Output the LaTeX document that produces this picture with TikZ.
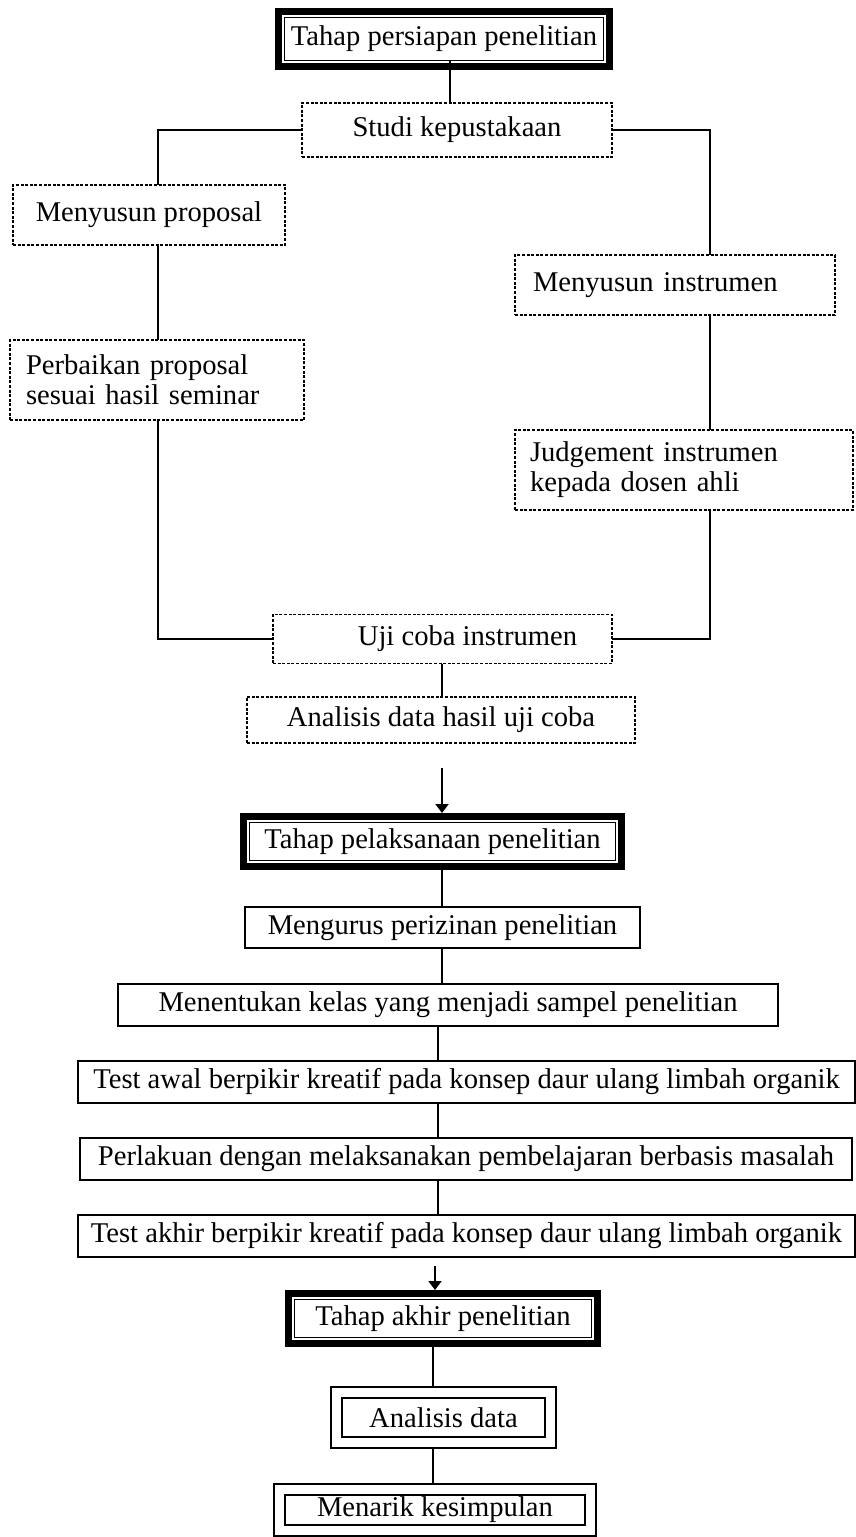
\documentclass[tikz,border=0pt]{standalone}
\usepackage{fontspec}
\setmainfont{Liberation Serif}
\usetikzlibrary{arrows.meta,calc}
\newcommand\stageframe[1]{\draw[line width=7pt] ([shift={(-6pt,6pt)}]#1.north west) rectangle ([shift={(6pt,-6pt)}]#1.south east);}
\newcommand\dblframe[1]{\draw[line width=1.6pt] ([shift={(-11pt,11pt)}]#1.north west) rectangle ([shift={(11pt,-11pt)}]#1.south east);}
\begin{document}
\begin{tikzpicture}[x=1pt,y=-1pt,
  every node/.style={font=\fontsize{28.6}{30}\selectfont, inner sep=0pt, outer sep=0pt},
  sbox/.style={draw, line width=1.5pt},
  dbox/.style={draw, line width=1.9pt, dash pattern=on 3pt off 1.6pt},
  sgl/.style={draw, line width=2pt},
  dbl/.style={draw, line width=1.6pt},
  conn/.style={line width=2pt},
  arr/.style={line width=2pt, -{Triangle[length=9pt,width=13pt]}}]
\useasboundingbox (0,0) rectangle (856,1537);
\coordinate (cl) at (158,0);
\coordinate (cr) at (710,0);
\coordinate (ct) at (450,0);
\coordinate (cm) at (442,0);
\coordinate (cb) at (438,0);
\coordinate (cz) at (433,0);

% preparation stage
\node[sbox, minimum width=319pt, minimum height=43pt] (s1) at (444,39) {Tahap persiapan penelitian};
\stageframe{s1}
\node[dbox, minimum width=310pt, minimum height=54pt] (studi) at (457,130) {Studi kepustakaan};
\node[dbox, minimum width=272pt, minimum height=60pt] (mprop) at (149,215) {Menyusun proposal};
\node[dbox, minimum height=80pt, text width=262pt, inner xsep=16pt, align=left, anchor=west] (perb) at (10,380) {Perbaikan proposal\\sesuai hasil seminar};
\node[dbox, minimum height=60pt, text width=284pt, inner xsep=18pt, align=left, anchor=west] (minst) at (515,285) {Menyusun instrumen};
\node[dbox, minimum height=80pt, text width=308pt, inner xsep=15pt, align=left, anchor=west] (judg) at (515,470) {Judgement instrumen\\kepada dosen ahli};
\node[dbox, minimum width=339pt, minimum height=49pt] (uji) at (442.5,639) {\hspace*{50pt}Uji coba instrumen};
\node[dbox, minimum width=388pt, minimum height=46pt] (anal) at (441,720) {Analisis data hasil uji coba};

\draw[conn] (s1.south -| ct) -- (studi.north -| ct);
\draw[conn] (studi.west) -| (cl |- mprop.north);
\draw[conn] (studi.east) -| (cr |- minst.north);
\draw[conn] (mprop.south -| cl) -- (perb.north -| cl);
\draw[conn] (minst.south -| cr) -- (judg.north -| cr);
\draw[conn] (perb.south -| cl) |- (uji.west);
\draw[conn] (judg.south -| cr) |- (uji.east);
\draw[conn] (uji.south -| cm) -- (anal.north -| cm);

% implementation stage
\node[sbox, minimum width=366pt, minimum height=38pt] (s2) at (432.5,841.5) {Tahap pelaksanaan penelitian};
\stageframe{s2}
\coordinate (a1) at (442,768);
\draw[arr] (a1) -- ($(s2.north -| cm)+(0,-9.5)$);

\node[sgl, minimum width=395pt, minimum height=41pt] (m1) at (442.5,927.5) {Mengurus perizinan penelitian};
\node[sgl, minimum width=660pt, minimum height=42pt] (m2) at (448,1005) {Menentukan kelas yang menjadi sampel penelitian};
\node[sgl, minimum width=777pt, minimum height=42pt] (m3) at (466.5,1082) {Test awal berpikir kreatif pada konsep daur ulang limbah organik};
\node[sgl, minimum width=772pt, minimum height=42pt] (m4) at (466,1159) {Perlakuan dengan melaksanakan pembelajaran berbasis masalah};
\node[sgl, minimum width=777pt, minimum height=42pt] (m5) at (466.5,1236) {Test akhir berpikir kreatif pada konsep daur ulang limbah organik};

\draw[conn] ($(s2.south -| cm)+(0,9.5)$) -- (m1.north -| cm);
\draw[conn] (m1.south -| cm) -- (m2.north -| cm);
\draw[conn] (m2.south -| cb) -- (m3.north -| cb);
\draw[conn] (m3.south -| cb) -- (m4.north -| cb);
\draw[conn] (m4.south -| cb) -- (m5.north -| cb);

% final stage
\node[sbox, minimum width=297pt, minimum height=38pt] (s3) at (443,1318.5) {Tahap akhir penelitian};
\stageframe{s3}
\coordinate (a2) at (435,1266);
\draw[arr] (a2) -- ($(s3.north -| a2)+(0,-9.5)$);

\node[dbl, minimum width=203pt, minimum height=39pt] (d1) at (443.5,1417.5) {Analisis data};
\dblframe{d1}
\node[dbl, minimum width=300pt, minimum height=30pt] (d2) at (435,1510) {Menarik kesimpulan};
\dblframe{d2}

\draw[conn] ($(s3.south -| cz)+(0,9.5)$) -- ($(d1.north -| cz)+(0,-11)$);
\draw[conn] ($(d1.south -| cz)+(0,11)$) -- ($(d2.north -| cz)+(0,-11)$);
\end{tikzpicture}
\end{document}
